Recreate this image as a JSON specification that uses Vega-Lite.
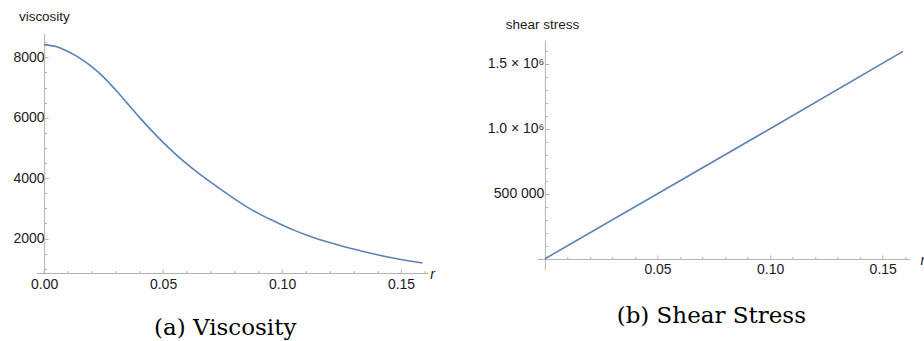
{
  "$schema": "https://vega.github.io/schema/vega-lite/v6.json",
  "padding": {"left": 12.7, "top": 9, "right": 0, "bottom": 0},
  "background": "white",
  "config": {
    "view": {"stroke": null},
    "axis": {"grid": false, "domainColor": "#b4b4b4", "tickColor": "#b4b4b4", "labelFont": "Liberation Sans", "labelFontSize": 14, "labelColor": "#1a1a1a", "titleFont": "Liberation Sans", "titleFontWeight": "normal", "titleColor": "#1a1a1a", "domainWidth": 1, "tickWidth": 1}
  },
  "datasets": {
    "viscosity": [
      {"r": 0, "v": 8420}, {"r": 0.005, "v": 8355}, {"r": 0.01, "v": 8190}, {"r": 0.015, "v": 7975},
      {"r": 0.02, "v": 7690}, {"r": 0.025, "v": 7345}, {"r": 0.03, "v": 6925}, {"r": 0.035, "v": 6475},
      {"r": 0.04, "v": 6020}, {"r": 0.045, "v": 5590}, {"r": 0.05, "v": 5185}, {"r": 0.055, "v": 4815},
      {"r": 0.06, "v": 4470}, {"r": 0.065, "v": 4155}, {"r": 0.07, "v": 3870}, {"r": 0.075, "v": 3590},
      {"r": 0.08, "v": 3315}, {"r": 0.085, "v": 3060}, {"r": 0.09, "v": 2835}, {"r": 0.095, "v": 2637},
      {"r": 0.1, "v": 2453}, {"r": 0.105, "v": 2280}, {"r": 0.11, "v": 2125}, {"r": 0.115, "v": 1990},
      {"r": 0.12, "v": 1869}, {"r": 0.125, "v": 1755}, {"r": 0.13, "v": 1655}, {"r": 0.135, "v": 1559},
      {"r": 0.14, "v": 1468}, {"r": 0.145, "v": 1385}, {"r": 0.15, "v": 1308}, {"r": 0.155, "v": 1240},
      {"r": 0.159, "v": 1190}
    ],
    "shear": [
      {"r": 0, "s": 0}, {"r": 0.05, "s": 500000}, {"r": 0.1, "s": 1000000}, {"r": 0.159, "s": 1595000}
    ]
  },
  "hconcat": [
    {
      "width": 391,
      "height": 240,
      "data": {"name": "viscosity"},
      "title": {"text": "(a) Viscosity", "orient": "bottom", "anchor": "middle", "frame": "group", "font": "DejaVu Serif", "fontSize": 23, "fontWeight": "normal", "color": "#000000", "dx": -7, "offset": 25},
      "resolve": {"axis": {"x": "independent", "y": "independent"}},
      "layer": [
        {
          "mark": {"type": "line", "color": "#5E81B5", "strokeWidth": 1.6, "interpolate": "monotone"},
          "encoding": {
            "x": {"field": "r", "type": "quantitative", "scale": {"domain": [-0.0031, 0.1612], "nice": false, "zero": false},
              "axis": {"orient": "bottom", "values": [0.01, 0.02, 0.03, 0.04, 0.06, 0.07, 0.08, 0.09, 0.11, 0.12, 0.13, 0.14, 0.16], "labels": false, "tickSize": -2.5, "title": null}},
            "y": {"field": "v", "type": "quantitative", "scale": {"domain": [861, 8805], "nice": false, "zero": false},
              "axis": {"orient": "left", "offset": -7.4, "domain": false, "values": [1000, 1500, 2500, 3000, 3500, 4500, 5000, 5500, 6500, 7000, 7500, 8500], "labels": false, "tickSize": -2.5, "title": null}}
          }
        },
        {
          "mark": {"type": "line", "opacity": 0},
          "encoding": {
            "x": {"field": "r", "type": "quantitative",
              "axis": {"orient": "bottom", "values": [0, 0.05, 0.1, 0.15], "format": ".2f", "tickSize": -4, "labelPadding": 9, "title": "r", "titleFontStyle": "italic", "titleFontSize": 14, "titleX": 393, "titleY": 5.3, "titleAlign": "left", "titleBaseline": "alphabetic", "titleAngle": 0}},
            "y": {"field": "v", "type": "quantitative",
              "axis": {"orient": "left", "offset": -7.4, "values": [2000, 4000, 6000, 8000], "format": "d", "tickSize": -4, "labelPadding": 4, "title": "viscosity", "titleFontSize": 13.5, "titleAngle": 0, "titleAlign": "left", "titleBaseline": "alphabetic", "titleX": -25.7, "titleY": -12.4}}
          }
        }
      ]
    },
    {
      "width": 372,
      "height": 236.3,
      "data": {"name": "shear"},
      "title": {"text": "(b) Shear Stress", "orient": "bottom", "anchor": "middle", "frame": "group", "font": "DejaVu Serif", "fontSize": 23, "fontWeight": "normal", "color": "#000000", "dx": -12, "offset": 29},
      "resolve": {"axis": {"x": "independent", "y": "independent"}},
      "layer": [
        {
          "mark": {"type": "line", "color": "#5E81B5", "strokeWidth": 1.6},
          "encoding": {
            "x": {"field": "r", "type": "quantitative", "scale": {"domain": [-0.0034, 0.1618], "nice": false, "zero": false},
              "axis": {"orient": "bottom", "offset": -10.3, "values": [0.01, 0.02, 0.03, 0.04, 0.06, 0.07, 0.08, 0.09, 0.11, 0.12, 0.13, 0.14, 0.16], "labels": false, "tickSize": -2.5, "title": null}},
            "y": {"field": "s", "type": "quantitative", "scale": {"domain": [-81000, 1680000], "range": [236.3, 7.3], "nice": false, "zero": false},
              "axis": {"orient": "left", "offset": -7.6, "domain": false, "values": [100000, 200000, 300000, 400000, 600000, 700000, 800000, 900000, 1100000, 1200000, 1300000, 1400000, 1600000], "labels": false, "tickSize": -2.5, "title": null}}
          }
        },
        {
          "mark": {"type": "line", "opacity": 0},
          "encoding": {
            "x": {"field": "r", "type": "quantitative",
              "axis": {"orient": "bottom", "offset": -10.3, "values": [0.05, 0.1, 0.15], "format": ".2f", "tickSize": -4, "labelPadding": 7.5, "title": "r", "titleFontStyle": "italic", "titleFontSize": 14, "titleX": 382.7, "titleY": 5.3, "titleAlign": "left", "titleBaseline": "alphabetic", "titleAngle": 0}},
            "y": {"field": "s", "type": "quantitative",
              "axis": {"orient": "left", "offset": -7.6, "values": [500000, 1000000, 1500000], "labelExpr": "datum.value == 500000 ? '500 000' : format(datum.value / 1000000, '.1f') + ' × 10⁶'", "tickSize": -4, "labelPadding": 5, "title": "shear stress", "titleFontSize": 13.5, "titleAngle": 0, "titleAlign": "left", "titleBaseline": "alphabetic", "titleX": -39.6, "titleY": -5}}
          }
        }
      ]
    }
  ],
  "spacing": 109.6,
  "bounds": "flush"
}
